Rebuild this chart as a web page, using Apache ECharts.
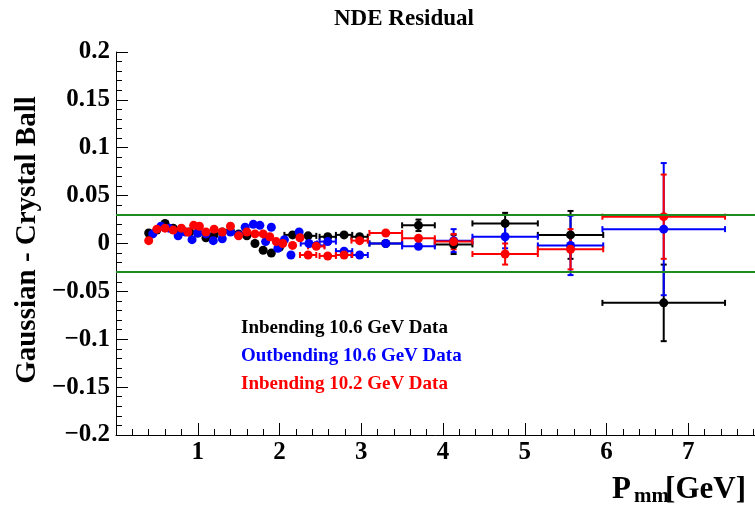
<!DOCTYPE html>
<html>
<head>
<meta charset="utf-8">
<script src="https://cdn.jsdelivr.net/npm/echarts@6/dist/echarts.min.js"></script>
<style>html,body{margin:0;padding:0;background:#fff;}#c{width:755px;height:511px;}</style>
</head>
<body>
<div id="c"></div>
<script>
// ---- data ----
const xTicks = [1, 2, 3, 4, 5, 6, 7];
const limitLines = [0.03, -0.03];

const blackX    = [0.40,0.50,0.60,0.70,0.80,0.90,1.00,1.10,1.20,1.30,1.40,1.50,1.60,1.70,1.80,1.90,2.00, 2.16,2.35,2.59,2.79,2.98, 3.30,3.70,4.13,4.76,5.56,6.70];
const blackY    = [0.011,0.014,0.021,0.016,0.013,0.012,0.011,0.006,0.009,0.012,0.013,0.010,0.008,0.000,-0.007,-0.010,-0.004, 0.009,0.008,0.007,0.009,0.007, 0.000,0.019,-0.001,0.021,0.009,-0.062];
const blackXErr = [0.05,0.05,0.05,0.05,0.05,0.05,0.05,0.05,0.05,0.05,0.05,0.05,0.05,0.05,0.05,0.05,0.05, 0.1,0.1,0.1,0.1,0.1, 0.2,0.2,0.23,0.4,0.4,0.75];
const blackYErr = [0.002,0.002,0.002,0.002,0.002,0.002,0.002,0.002,0.002,0.002,0.002,0.002,0.002,0.002,0.002,0.002,0.002, 0.003,0.003,0.003,0.003,0.003, 0.004,0.006,0.010,0.011,0.025,0.040];

const blueX    = [0.45,0.55,0.65,0.76,0.85,0.93,1.00,1.10,1.19,1.30,1.40,1.50,1.58,1.68,1.76,1.83,1.90,1.98,2.06, 2.14,2.24,2.36,2.45,2.59,2.79,2.98, 3.30,3.70,4.13,4.76,5.56,6.70];
const blueY    = [0.010,0.018,0.016,0.008,0.012,0.004,0.011,0.010,0.003,0.005,0.012,0.009,0.017,0.020,0.019,0.002,0.017,-0.005,0.004, -0.012,0.012,0.000,-0.002,0.002,-0.008,-0.012, 0.000,-0.003,0.003,0.007,-0.002,0.015];
const blueXErr = [0.05,0.05,0.05,0.05,0.05,0.05,0.05,0.05,0.05,0.05,0.05,0.05,0.05,0.05,0.05,0.05,0.05,0.05,0.05, 0.05,0.05,0.1,0.1,0.1,0.1,0.1, 0.2,0.2,0.23,0.4,0.4,0.75];
const blueYErr = [0.002,0.002,0.002,0.002,0.002,0.002,0.002,0.002,0.002,0.002,0.002,0.002,0.002,0.002,0.002,0.002,0.002,0.002,0.002, 0.003,0.003,0.003,0.003,0.003,0.003,0.003, 0.004,0.005,0.012,0.012,0.031,0.069];

const redX    = [0.40,0.50,0.60,0.70,0.80,0.88,0.95,1.02,1.10,1.20,1.30,1.40,1.50,1.60,1.70,1.80,1.88,1.96,2.04, 2.16,2.25,2.35,2.45,2.59,2.79,2.98, 3.30,3.70,4.13,4.76,5.56,6.70];
const redY    = [0.003,0.015,0.016,0.014,0.016,0.012,0.019,0.018,0.012,0.015,0.012,0.018,0.008,0.012,0.010,0.010,0.007,0.002,0.000, -0.002,0.006,-0.012,-0.003,-0.013,-0.012,0.003, 0.011,0.0055,0.002,-0.011,-0.006,0.028];
const redXErr = [0.05,0.05,0.05,0.05,0.05,0.05,0.05,0.05,0.05,0.05,0.05,0.05,0.05,0.05,0.05,0.05,0.05,0.05,0.05, 0.05,0.05,0.1,0.1,0.1,0.1,0.1, 0.2,0.2,0.23,0.4,0.4,0.75];
const redYErr = [0.002,0.002,0.002,0.002,0.002,0.002,0.002,0.002,0.002,0.002,0.002,0.002,0.002,0.002,0.002,0.002,0.002,0.002,0.002, 0.002,0.002,0.003,0.003,0.003,0.003,0.003, 0.004,0.004,0.008,0.011,0.021,0.044];

const seriesNames = ['Inbending 10.6 GeV Data', 'Outbending 10.6 GeV Data', 'Inbending 10.2 GeV Data'];

// ---- build ----
const SERIF = '"Liberation Serif", "DejaVu Serif", serif';
function pack(xs, ys, exs, eys) { return xs.map((x, i) => [x, ys[i], exs[i], eys[i]]); }

function errRender(color) {
  return function (params, api) {
    const x = api.value(0), y = api.value(1), ex = api.value(2), ey = api.value(3);
    const l = api.coord([x - ex, y]), r = api.coord([x + ex, y]);
    const t = api.coord([x, y + ey]), b = api.coord([x, y - ey]);
    const st = { stroke: color, lineWidth: 2 };
    const cap = 3;
    const ch = [];
    if ((r[0] - l[0]) / 2 > 5) {
      ch.push({ type: 'line', shape: { x1: l[0], y1: l[1], x2: r[0], y2: r[1] }, style: st });
      ch.push({ type: 'line', shape: { x1: l[0], y1: l[1] - cap, x2: l[0], y2: l[1] + cap }, style: st });
      ch.push({ type: 'line', shape: { x1: r[0], y1: r[1] - cap, x2: r[0], y2: r[1] + cap }, style: st });
    }
    if ((b[1] - t[1]) / 2 > 5) {
      ch.push({ type: 'line', shape: { x1: t[0], y1: t[1], x2: b[0], y2: b[1] }, style: st });
      ch.push({ type: 'line', shape: { x1: t[0] - cap, y1: t[1], x2: t[0] + cap, y2: t[1] }, style: st });
      ch.push({ type: 'line', shape: { x1: b[0] - cap, y1: b[1], x2: b[0] + cap, y2: b[1] }, style: st });
    }
    return { type: 'group', children: ch };
  };
}

const groups = [
  { name: seriesNames[0], color: '#000000', data: pack(blackX, blackY, blackXErr, blackYErr) },
  { name: seriesNames[1], color: '#0000ff', data: pack(blueX, blueY, blueXErr, blueYErr) },
  { name: seriesNames[2], color: '#ff0000', data: pack(redX, redY, redXErr, redYErr) }
];

const series = [];
groups.forEach(g => {
  series.push({
    type: 'custom', name: g.name, renderItem: errRender(g.color),
    data: g.data, encode: { x: 0, y: 1 }, clip: true, silent: true
  });
  series.push({
    type: 'scatter', name: g.name, data: g.data.map(d => [d[0], d[1]]),
    symbol: 'circle', symbolSize: 9, itemStyle: { color: g.color, opacity: 1 }, silent: true
  });
});
series.push({
  type: 'line', data: [], silent: true,
  markLine: {
    silent: true, symbol: 'none', animation: false,
    label: { show: false },
    lineStyle: { color: '#1e8c1e', width: 2, type: 'solid' },
    data: limitLines.map(v => ({ yAxis: v }))
  }
});

const legendColors = ['#000000', '#0000ff', '#ff0000'];
const graphics = seriesNames.map((n, i) => ({
  type: 'text', left: 241, top: 319 + i * 28,
  style: { text: n, fill: legendColors[i], fontFamily: SERIF, fontWeight: 'bold', fontSize: 19 }
}));
graphics.push({
  type: 'text', x: 28, y: 240, rotation: Math.PI / 2,
  style: { text: 'Gaussian - Crystal Ball', fill: '#000', fontFamily: SERIF, fontWeight: 'bold', fontSize: 29, align: 'center', verticalAlign: 'middle' }
});
graphics.push({
  type: 'text', x: 612, y: 489.5,
  style: { text: 'P', fill: '#000', fontFamily: SERIF, fontWeight: 'bold', fontSize: 31, align: 'left', verticalAlign: 'middle' }
});
graphics.push({
  type: 'text', x: 634, y: 497,
  style: { text: 'mm', fill: '#000', fontFamily: SERIF, fontWeight: 'bold', fontSize: 21, align: 'left', verticalAlign: 'middle' }
});
graphics.push({
  type: 'text', x: 746, y: 489.5,
  style: { text: '[GeV]', fill: '#000', fontFamily: SERIF, fontWeight: 'bold', fontSize: 31, align: 'right', verticalAlign: 'middle' }
});

function fmtY(v) {
  const r = parseFloat(v.toFixed(3));
  if (r === 0) return '0';
  return r < 0 ? '\u2212' + String(Math.abs(r)) : String(r);
}

const chart = echarts.init(document.getElementById('c'), null, { renderer: 'canvas' });
chart.setOption({
  animation: false,
  backgroundColor: '#ffffff',
  title: {
    text: 'NDE Residual', left: 329, top: 3,
    textStyle: { fontFamily: SERIF, fontWeight: 'bold', fontSize: 23, color: '#000' }
  },
  grid: { left: 116, top: 52, width: 654, height: 383, containLabel: false, outerBoundsMode: 'none' },
  xAxis: {
    type: 'value', min: 0, max: 8, interval: 1,
    axisLine: { show: true, onZero: false, lineStyle: { color: '#000', width: 1 } },
    axisTick: { show: true, inside: true, length: 12, lineStyle: { color: '#000', width: 1 } },
    minorTick: { show: true, splitNumber: 5, length: 6, lineStyle: { color: '#000', width: 1 } },
    splitLine: { show: false },
    axisLabel: {
      margin: 5, color: '#000', fontFamily: SERIF, fontWeight: 'bold', fontSize: 25,
      formatter: v => (xTicks.indexOf(Math.round(v)) >= 0 && Math.abs(v - Math.round(v)) < 1e-6) ? String(Math.round(v)) : ''
    }
  },
  yAxis: {
    type: 'value', min: -0.2, max: 0.2, interval: 0.05,
    axisLine: { show: true, onZero: false, lineStyle: { color: '#000', width: 1 } },
    axisTick: { show: true, inside: true, length: 12, lineStyle: { color: '#000', width: 1 } },
    minorTick: { show: true, splitNumber: 5, length: 6, lineStyle: { color: '#000', width: 1 } },
    splitLine: { show: false },
    axisLabel: {
      margin: 6, color: '#000', fontFamily: SERIF, fontWeight: 'bold', fontSize: 25,
      formatter: fmtY
    }
  },
  graphic: graphics,
  series: series
});
</script>
</body>
</html>
